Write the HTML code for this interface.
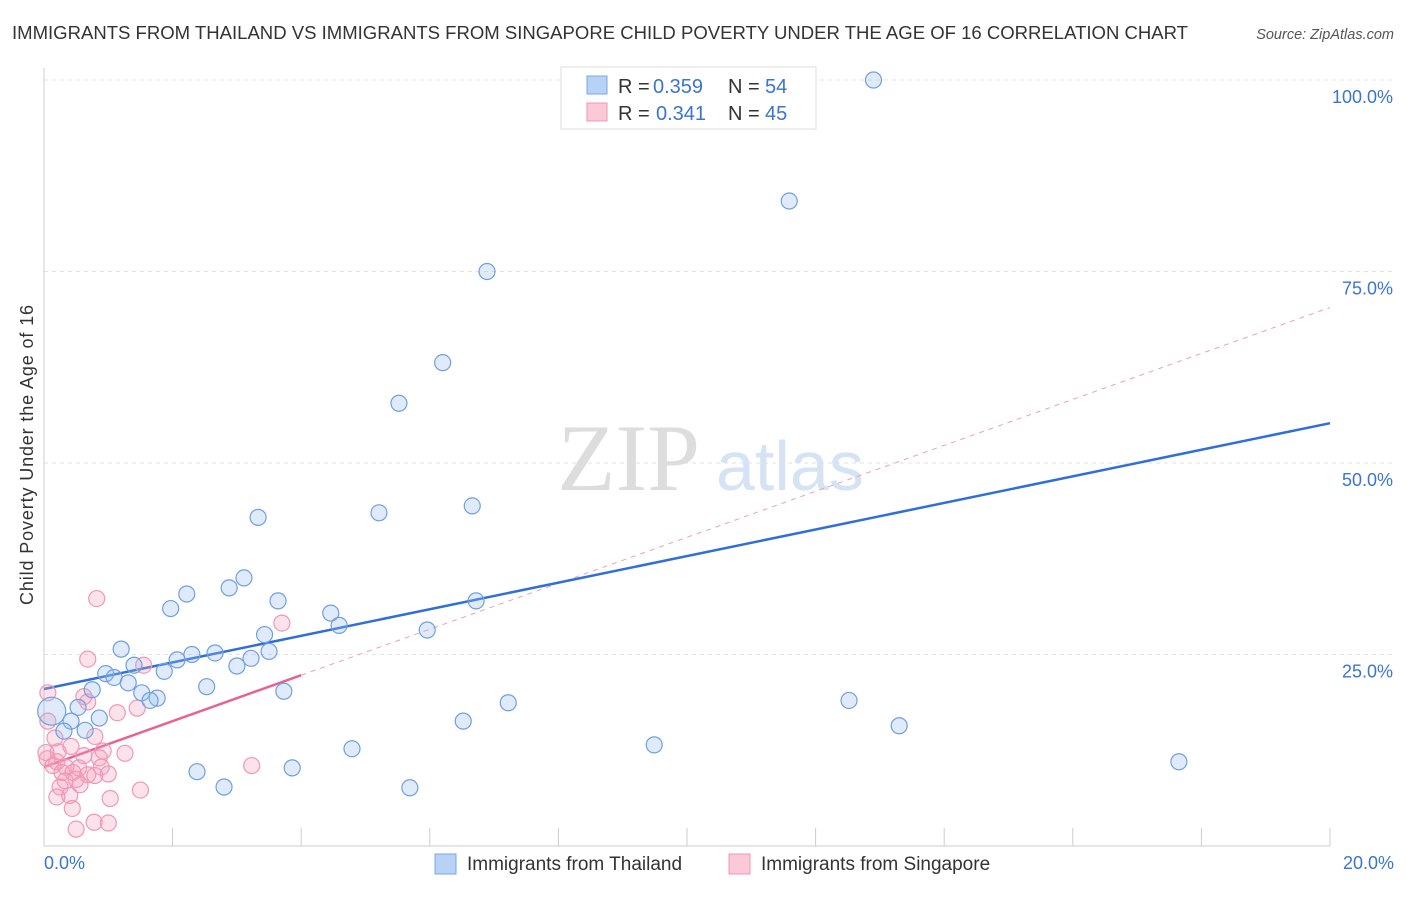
<!DOCTYPE html>
<html><head><meta charset="utf-8"><style>
body{margin:0;background:#fff;font-family:"Liberation Sans",sans-serif}
</style></head><body>
<svg width="1406" height="892" xmlns="http://www.w3.org/2000/svg">
<text x="12" y="39" font-size="18" fill="#333" textLength="1176" lengthAdjust="spacingAndGlyphs">IMMIGRANTS FROM THAILAND VS IMMIGRANTS FROM SINGAPORE CHILD POVERTY UNDER THE AGE OF 16 CORRELATION CHART</text>
<text x="1394" y="39" font-size="14.5" fill="#555" text-anchor="end" font-style="italic">Source: ZipAtlas.com</text>
<g id="grid"></g>
<text x="700" y="490" font-size="95" fill="#ddd" text-anchor="end" font-family="Liberation Serif">ZIP</text>
<text x="716" y="490" font-size="70" fill="#d5e3f5">atlas</text>
<g id="lines"></g>
<g id="pts"></g>
<text transform="translate(33,455) rotate(-90)" font-size="18" fill="#333" text-anchor="middle" textLength="300">Child Poverty Under the Age of 16</text>
<text x="44" y="869" font-size="18" fill="#3a75d1">0.0%</text>
<text x="1394" y="869" font-size="18" fill="#3a75d1" text-anchor="end">20.0%</text>
<g>
<rect x="561" y="67" width="255" height="62" fill="#fff" stroke="#ddd"/>
<rect x="587" y="76" width="20" height="18" fill="#b8d2f5" stroke="#7aa7e6"/>
<rect x="587" y="103" width="20" height="18" fill="#fbc9d8" stroke="#ef98b4"/>
<text x="618" y="93" font-size="20" fill="#333">R =</text>
<text x="653" y="93" font-size="20" fill="#3a75d1">0.359</text>
<text x="728" y="93" font-size="20" fill="#333">N =</text>
<text x="765" y="93" font-size="20" fill="#3a75d1">54</text>
<text x="618" y="120" font-size="20" fill="#333">R =</text>
<text x="656" y="120" font-size="20" fill="#3a75d1">0.341</text>
<text x="728" y="120" font-size="20" fill="#333">N =</text>
<text x="765" y="120" font-size="20" fill="#3a75d1">45</text>
</g>
<g>
<rect x="435" y="854" width="21" height="20" fill="#b8d2f5" stroke="#7aa7e6"/>
<text x="467" y="870" font-size="19" fill="#333">Immigrants from Thailand</text>
<rect x="729" y="854" width="21" height="20" fill="#fbc9d8" stroke="#ef98b4"/>
<text x="761" y="870" font-size="19" fill="#333">Immigrants from Singapore</text>
</g>
</svg>
<script>
const yTicks=[25,50,75,100];
const yTickLabels=["25.0%","50.0%","75.0%","100.0%"];
const xTicks=[0,2,4,6,8,10,12,14,16,18,20];
const thaiX=[12.9,11.59,6.89,6.2,5.52,6.66,5.21,3.33,3.11,2.88,2.22,1.97,3.64,6.72,4.46,4.59,5.96,3.43,1.2,2.3,2.66,2.07,3.22,3.5,3.0,1.4,1.87,0.96,1.09,1.31,2.53,0.75,3.73,1.52,1.76,1.65,12.52,7.22,0.53,0.86,0.42,6.52,13.3,0.12,0.31,0.64,9.49,4.79,17.65,3.86,2.38,5.69,2.8];
const thaiY=[100,84.2,75,63.1,57.8,44.4,43.5,42.9,35,33.7,32.9,31,32,32,30.4,28.8,28.2,27.6,25.7,25,25.2,24.3,24.5,25.4,23.5,23.6,22.8,22.5,22,21.3,20.8,20.4,20.2,20,19.3,19,19,18.7,18.1,16.7,16.3,16.3,15.7,17.6,15,15.1,13.2,12.7,11,10.2,9.7,7.6,7.7];
const singX=[0.82,3.7,0.68,1.55,0.06,0.62,0.68,1.14,1.45,0.06,0.79,0.17,0.42,0.22,0.92,1.26,0.62,0.86,0.2,0.05,0.14,0.34,0.54,0.89,3.23,0.28,0.45,0.68,0.79,0.33,0.5,0.56,0.25,1.0,1.5,1.03,0.2,0.4,0.44,0.78,1.0,0.5,0.03];
const singY=[32.3,29.1,24.4,23.6,20,19.5,18.8,17.4,18,16.3,14.3,14.1,13,12.3,12.4,12.1,11.8,11.5,11,11.4,10.5,10.3,10.2,10.3,10.5,9.6,9.6,9.3,9.2,8.5,8.7,8,7.7,9.4,7.3,6.2,6.4,6.6,4.9,3.1,3,2.2,12.2];
const thaiLine=[20.5,55.2];
const singLine=[10.3,3.0];
const NS="http://www.w3.org/2000/svg";
const sx=v=>44+v*64.3, sy=v=>846-v*7.66;
function mk(t,a,p){const e=document.createElementNS(NS,t);for(const k in a)e.setAttribute(k,a[k]);p.appendChild(e);return e;}
const grid=document.getElementById('grid');
yTicks.forEach((t,i)=>{
 const l=mk('line',{x1:44,x2:1394,y1:sy(t),y2:sy(t),stroke:'#e2e2e2','stroke-dasharray':'4,4'},grid);
 
 
 const tx=mk('text',{x:1393,y:sy(t)+23,'font-size':18,fill:'#3a75d1','text-anchor':'end'},grid);
 tx.textContent=yTickLabels[i];
 
 
});
const ax=mk('line',{x1:44,x2:1330,y1:846,y2:846,stroke:'#ccc'},grid);


const ay=mk('line',{x1:44,x2:44,y1:68,y2:846,stroke:'#ccc'},grid);


xTicks.forEach(t=>{const l=mk('line',{x1:sx(t),x2:sx(t),y1:828,y2:846,stroke:'#ccc'},grid);
 
 });
const pts=document.getElementById('pts');
singX.forEach((x,i)=>{const c=mk('circle',{cx:sx(x),cy:sy(singY[i]),r:8,fill:'rgba(244,160,190,0.3)',stroke:'#ef98b4','stroke-width':1.2},pts);
 
 });
thaiX.forEach((x,i)=>{const c=mk('circle',{cx:sx(x),cy:sy(thaiY[i]),r:(i==43?14:8),fill:'rgba(150,190,240,0.3)',stroke:'#6f9fe0','stroke-width':1.2},pts);
 
 });
const lines=document.getElementById('lines');
const d=mk('line',{x1:sx(4),y1:sy(singLine[0]+singLine[1]*4),x2:sx(20),y2:sy(singLine[0]+singLine[1]*20),stroke:'#eaa0b8','stroke-dasharray':'5,5','stroke-width':1},lines);


const ps=mk('line',{x1:sx(0),y1:sy(singLine[0]),x2:sx(4),y2:sy(singLine[0]+singLine[1]*4),stroke:'#e8628f','stroke-width':2.5},lines);


const bl=mk('line',{x1:sx(0),y1:sy(thaiLine[0]),x2:sx(20),y2:sy(thaiLine[1]),stroke:'#2f6fd6','stroke-width':2.5},lines);


</script>
</body></html>
